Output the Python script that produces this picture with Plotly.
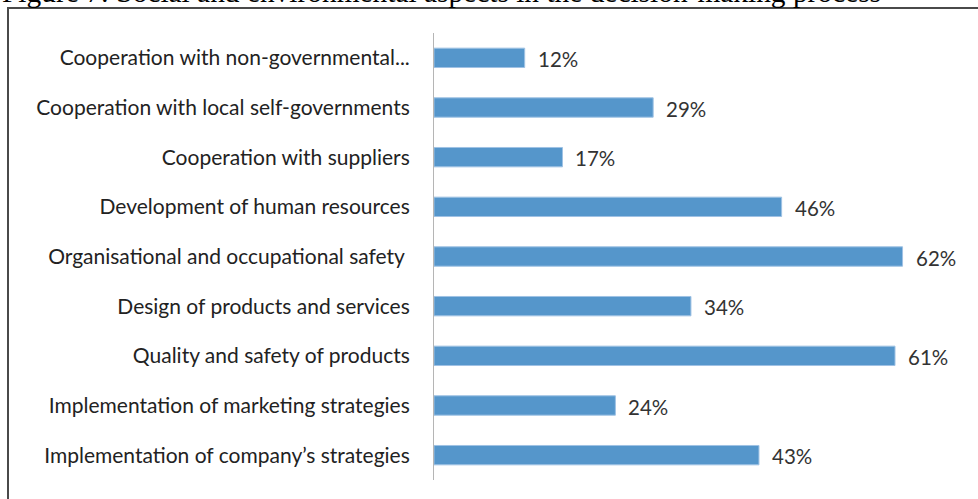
import plotly.graph_objects as go

# Survey results: share of companies considering each aspect (top to bottom)
categories = [
    "Cooperation with non-governmental...",
    "Cooperation with local self-governments",
    "Cooperation with suppliers",
    "Development of human resources",
    "Organisational and occupational safety ",
    "Design of products and services",
    "Quality and safety of products",
    "Implementation of marketing strategies",
    "Implementation of company\u2019s strategies",
]
shares = [12, 29, 17, 46, 62, 34, 61, 24, 43]

title_text = "Figure 7: Social and environmental aspects in the decision-making process"

W, H = 978, 499
L, R, T, B = 434, 18, 33, 19
plot_w = W - L - R
plot_h = H - T - B


def px_x(p):
    return (p - L) / plot_w


def px_y(p):
    return (H - B - p) / plot_h


label_font = "Lato, 'Open Sans', sans-serif"

fig = go.Figure(
    go.Bar(
        x=shares,
        y=categories,
        orientation="h",
        marker=dict(color="#5596CB", line=dict(color="#9fc2e4", width=1)),
        hoverinfo="x+y",
    )
)

# value labels placed just past the end of each bar
for cat, val in zip(categories, shares):
    fig.add_annotation(
        x=val, y=cat, xref="x", yref="y",
        text=f"{val}%", showarrow=False,
        xanchor="left", yanchor="middle",
        xshift=11, yshift=-1,
        font=dict(family=label_font, size=20.5, color="#333333"),
    )

# caption above the framed chart (its upper part runs off the top edge)
fig.add_annotation(
    x=px_x(0), y=px_y(10), xref="paper", yref="paper",
    text=title_text, showarrow=False,
    xanchor="left", yanchor="bottom",
    font=dict(family="'Liberation Serif', 'Times New Roman', serif", size=29.4, color="#000000"),
)

# frame around the chart
fig.add_shape(
    type="rect", xref="paper", yref="paper",
    x0=px_x(8), x1=px_x(W + 20), y0=px_y(H + 20), y1=px_y(8),
    line=dict(color="#4a4a4a", width=2), fillcolor="rgba(0,0,0,0)",
    layer="below",
)

fig.update_layout(
    width=W, height=H,
    margin=dict(l=L, r=R, t=T, b=B, pad=0),
    paper_bgcolor="white", plot_bgcolor="white",
    bargap=0.61,
    showlegend=False,
    xaxis=dict(range=[0, 69.6], showgrid=False, zeroline=False,
               showticklabels=False, showline=False, ticks=""),
    yaxis=dict(autorange="reversed", showgrid=False, zeroline=False,
               showline=True, linecolor="#b5b5b5", linewidth=1,
               ticks="", ticklabelstandoff=19,
               tickfont=dict(family=label_font, size=21, color="#222222")),
)

fig.write_html("out.html")
